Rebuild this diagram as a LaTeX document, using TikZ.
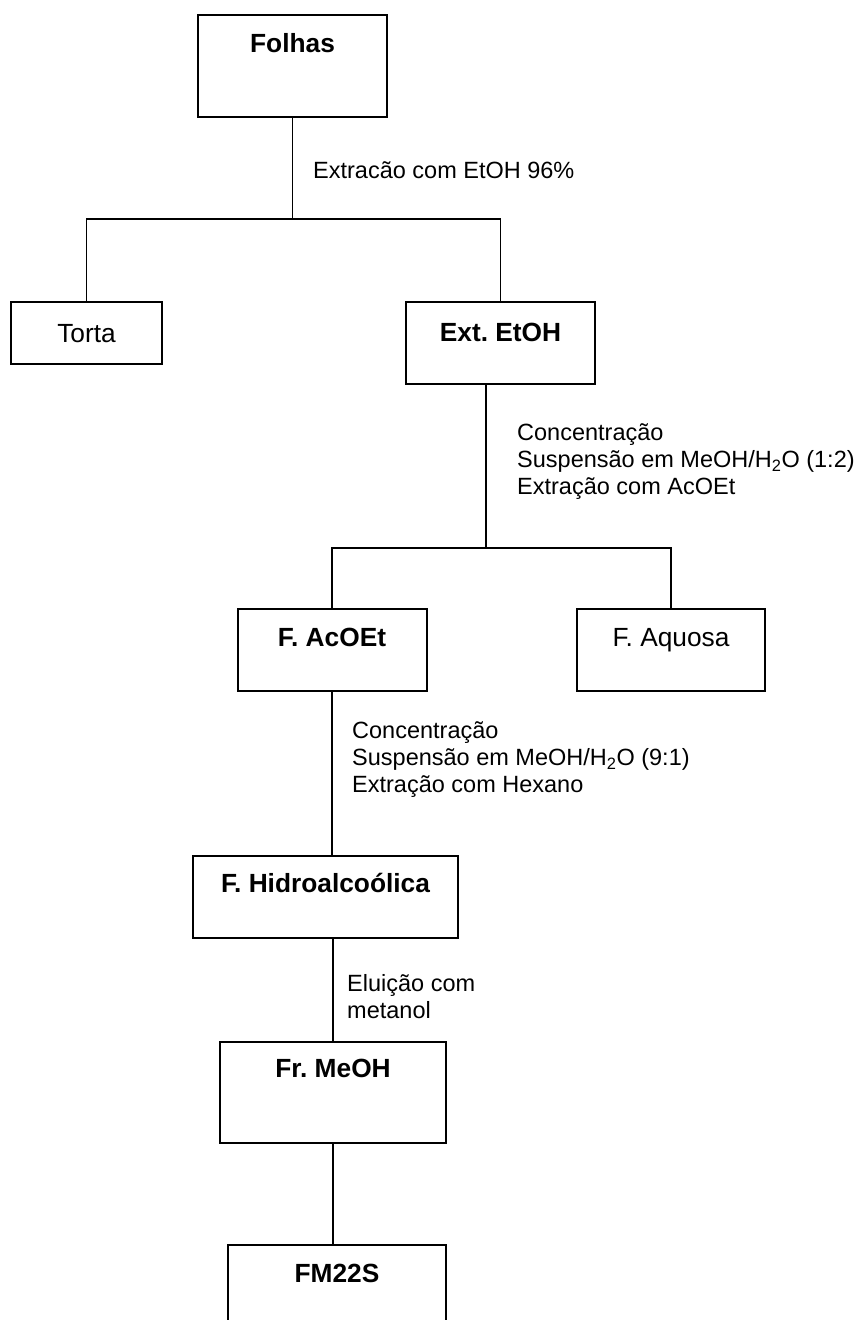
\documentclass[tikz,border=0pt]{standalone}
\usepackage{fontspec}
\setmainfont{Liberation Sans}
\frenchspacing
\begin{document}
\begin{tikzpicture}[x=1pt,y=-1pt,
  box/.style={draw,line width=2pt,inner sep=0pt,outer sep=0pt},
  boxtxt/.style={inner sep=0pt,anchor=base,font=\fontsize{26.3}{30}\selectfont},
  boxbold/.style={inner sep=0pt,anchor=base,font=\fontsize{26.3}{30}\selectfont\bfseries},
  steptxt/.style={inner sep=0pt,anchor=base west,font=\fontsize{23.5}{27}\selectfont},
  conn/.style={line width=1.8pt}]
\useasboundingbox (0,0) rectangle (867,1320);
\clip (0,0) rectangle (867,1320);
% boxes
\node[box,minimum width=189pt,minimum height=102pt] (folhas) at (292.5,66) {};
\node[box,minimum width=151pt,minimum height=62pt] (torta) at (86.5,333) {};
\node[box,minimum width=189pt,minimum height=82pt] (exte) at (500.5,343) {};
\node[box,minimum width=189pt,minimum height=82pt] (acoet) at (332,650) {};
\node[box,minimum width=188pt,minimum height=82pt] (aquosa) at (671,650) {};
\node[box,minimum width=265pt,minimum height=82pt] (hidro) at (325.5,897) {};
\node[box,minimum width=226pt,minimum height=101pt] (frmeoh) at (333,1092.5) {};
\node[box,minimum width=218pt,minimum height=155pt] (fm22s) at (337,1322.5) {};
% box texts
\node[boxbold] (folhasT) at (292.5,52.4) {Folhas};
\node[boxtxt] (tortaT) at (86.5,342.4) {Torta};
\node[boxbold] (exteT) at (500.5,341.4) {Ext. EtOH};
\node[boxbold] (acoetT) at (332,646.4) {F. AcOEt};
\node[boxtxt] (aquosaT) at (671,646.4) {F. Aquosa};
\node[boxbold] (hidroT) at (325.5,892.4) {F. Hidroalcoólica};
\node[boxbold] (frmeohT) at (333,1077.4) {Fr. MeOH};
\node[boxbold] (fm22sT) at (337,1282.4) {FM22S};
% junctions
\coordinate (j1) at (0,219);
\coordinate (j2) at (486,548);
% connectors
\draw[conn] (folhas.south) -- (folhas.south |- j1);
\draw[conn] (torta.north) -- (torta.north |- j1) -- (exte.north |- j1) -- (exte.north);
\draw[conn] (exte.south -| j2) -- (j2);
\draw[conn] (acoet.north) -- (acoet.north |- j2) -- (aquosa.north |- j2) -- (aquosa.north);
\draw[conn] (acoet.south) -- (acoet.south |- hidro.north);
\draw[conn] (frmeoh.north) -- (frmeoh.north |- hidro.south);
\draw[conn] (frmeoh.south) -- (frmeoh.south |- fm22s.north);
% step labels
\node[steptxt] (s1) at (313,178.4) {Extracão com EtOH 96\%};
\node[steptxt] (s2a) at (517,440.4) {Concentração};
\node[steptxt] (s2b) at (517,467.4) {Suspensão em MeOH/H\textsubscript{2}O (1:2)};
\node[steptxt] (s2c) at (517,494.4) {Extração com AcOEt};
\node[steptxt] (s3a) at (352,738.4) {Concentração};
\node[steptxt] (s3b) at (352,765.4) {Suspensão em MeOH/H\textsubscript{2}O (9:1)};
\node[steptxt] (s3c) at (352,792.4) {Extração com Hexano};
\node[steptxt] (s4a) at (347,991.4) {Eluição com};
\node[steptxt] (s4b) at (347,1018.4) {metanol};
\end{tikzpicture}
\end{document}
